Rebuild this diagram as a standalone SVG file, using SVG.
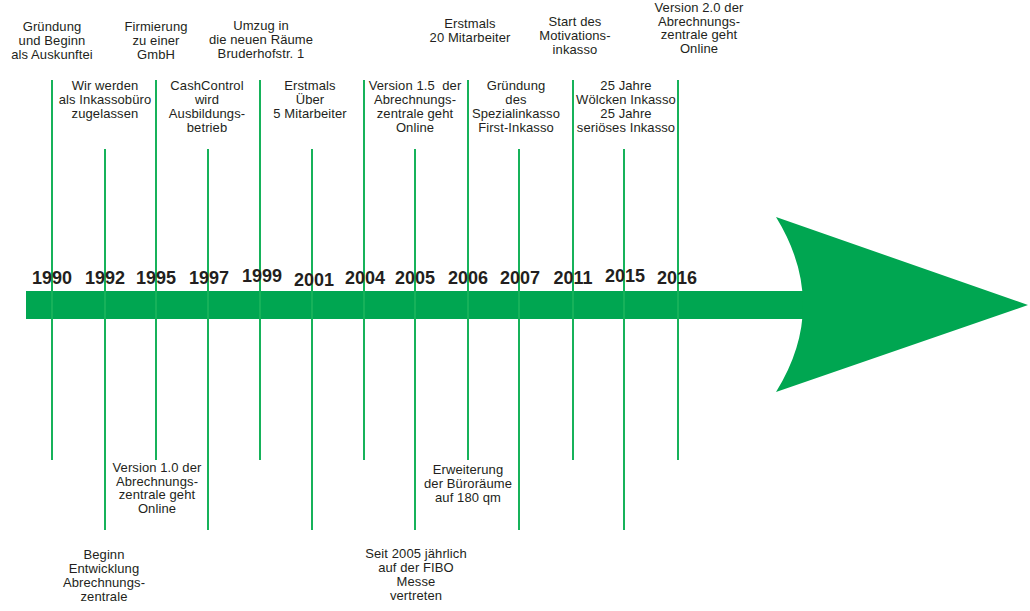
<svg xmlns="http://www.w3.org/2000/svg" width="1030" height="611" viewBox="0 0 1030 611">
<style>
.lbl{font-family:"Liberation Sans",Arial,sans-serif;font-size:13px;fill:#231F20;text-anchor:middle;letter-spacing:0.1px}
.yr{font-family:"Liberation Sans",Arial,sans-serif;font-size:18px;font-weight:bold;fill:#231F20;text-anchor:middle}
.tick{stroke:#16B25A;stroke-width:2;fill:none}
.arrow{fill:#00A651}
.pre{white-space:pre}
</style>
<rect width="1030" height="611" fill="#ffffff"/>
<g id="arrow">
<rect class="arrow" x="26" y="291" width="778" height="28"/>
<path class="arrow" d="M776,217 L1028,305 L776,392 Q830,305 776,217 Z"/>
</g>
<g id="connectors">
<line class="tick" x1="52" y1="80" x2="52" y2="460"/>
<line class="tick" x1="105" y1="149" x2="105" y2="530"/>
<line class="tick" x1="156" y1="80" x2="156" y2="460"/>
<line class="tick" x1="208" y1="149" x2="208" y2="530"/>
<line class="tick" x1="260" y1="80" x2="260" y2="460"/>
<line class="tick" x1="312" y1="149" x2="312" y2="530"/>
<line class="tick" x1="364" y1="80" x2="364" y2="460"/>
<line class="tick" x1="415" y1="149" x2="415" y2="530"/>
<line class="tick" x1="468" y1="80" x2="468" y2="460"/>
<line class="tick" x1="519" y1="149" x2="519" y2="530"/>
<line class="tick" x1="573" y1="80" x2="573" y2="460"/>
<line class="tick" x1="624" y1="149" x2="624" y2="530"/>
<line class="tick" x1="678" y1="80" x2="678" y2="460"/>
</g>
<g id="years">
<text class="yr" x="52" y="284">1990</text>
<text class="yr" x="105" y="284">1992</text>
<text class="yr" x="156" y="284">1995</text>
<text class="yr" x="209" y="284">1997</text>
<text class="yr" x="262" y="282">1999</text>
<text class="yr" x="314" y="286">2001</text>
<text class="yr" x="365" y="284">2004</text>
<text class="yr" x="415" y="284">2005</text>
<text class="yr" x="468" y="284">2006</text>
<text class="yr" x="520" y="284">2007</text>
<text class="yr" x="573" y="284">2011</text>
<text class="yr" x="625" y="282">2015</text>
<text class="yr" x="677" y="284">2016</text>
</g>
<g id="n1990"><text class="lbl" x="52" y="31">Gründung<tspan x="52" dy="14">und Beginn</tspan><tspan x="52" dy="14">als Auskunftei</tspan></text></g>
<g id="n1995"><text class="lbl" x="156" y="31">Firmierung<tspan x="156" dy="14">zu einer</tspan><tspan x="156" dy="14">GmbH</tspan></text></g>
<g id="n1999"><text class="lbl" x="261" y="30">Umzug in<tspan x="261" dy="14">die neuen Räume</tspan><tspan x="261" dy="14">Bruderhofstr. 1</tspan></text></g>
<g id="n2006"><text class="lbl" x="470" y="28">Erstmals<tspan x="470" dy="14">20 Mitarbeiter</tspan></text></g>
<g id="n2011"><text class="lbl" x="575" y="26">Start des<tspan x="575" dy="14">Motivations-</tspan><tspan x="575" dy="14">inkasso</tspan></text></g>
<g id="n2016"><text class="lbl" x="699" y="12">Version 2.0 der<tspan x="699" dy="13.5">Abrechnungs-</tspan><tspan x="699" dy="13.5">zentrale geht</tspan><tspan x="699" dy="13.5">Online</tspan></text></g>
<g id="n1992"><text class="lbl" x="105" y="90">Wir werden<tspan x="105" dy="14">als Inkassobüro</tspan><tspan x="105" dy="14">zugelassen</tspan></text></g>
<g id="n1997"><text class="lbl" x="207" y="90">CashControl<tspan x="207" dy="14">wird</tspan><tspan x="207" dy="14">Ausbildungs-</tspan><tspan x="207" dy="14">betrieb</tspan></text></g>
<g id="n2001"><text class="lbl" x="310" y="90">Erstmals<tspan x="310" dy="14">Über</tspan><tspan x="310" dy="14">5 Mitarbeiter</tspan></text></g>
<g id="n2005"><text class="lbl" x="415" y="90"><tspan class="pre">Version 1.5  der</tspan><tspan x="415" dy="14">Abrechnungs-</tspan><tspan x="415" dy="14">zentrale geht</tspan><tspan x="415" dy="14">Online</tspan></text></g>
<g id="n2007"><text class="lbl" x="516" y="90">Gründung<tspan x="516" dy="14">des</tspan><tspan x="516" dy="14">Spezialinkasso</tspan><tspan x="516" dy="14">First-Inkasso</tspan></text></g>
<g id="n2015"><text class="lbl" x="626" y="90">25 Jahre<tspan x="626" dy="14">Wölcken Inkasso</tspan><tspan x="626" dy="14">25 Jahre</tspan><tspan x="626" dy="14">seriöses Inkasso</tspan></text></g>
<g id="n1995b"><text class="lbl" x="157" y="472">Version 1.0 der<tspan x="157" dy="13.7">Abrechnungs-</tspan><tspan x="157" dy="13.7">zentrale geht</tspan><tspan x="157" dy="13.7">Online</tspan></text></g>
<g id="n1992b"><text class="lbl" x="104" y="559">Beginn<tspan x="104" dy="14">Entwicklung</tspan><tspan x="104" dy="14">Abrechnungs-</tspan><tspan x="104" dy="14">zentrale</tspan></text></g>
<g id="n2006b"><text class="lbl" x="468" y="474">Erweiterung<tspan x="468" dy="14">der Büroräume</tspan><tspan x="468" dy="14">auf 180 qm</tspan></text></g>
<g id="n2005b"><text class="lbl" x="416" y="558">Seit 2005 jährlich<tspan x="416" dy="14">auf der FIBO</tspan><tspan x="416" dy="14">Messe</tspan><tspan x="416" dy="14">vertreten</tspan></text></g>
</svg>
